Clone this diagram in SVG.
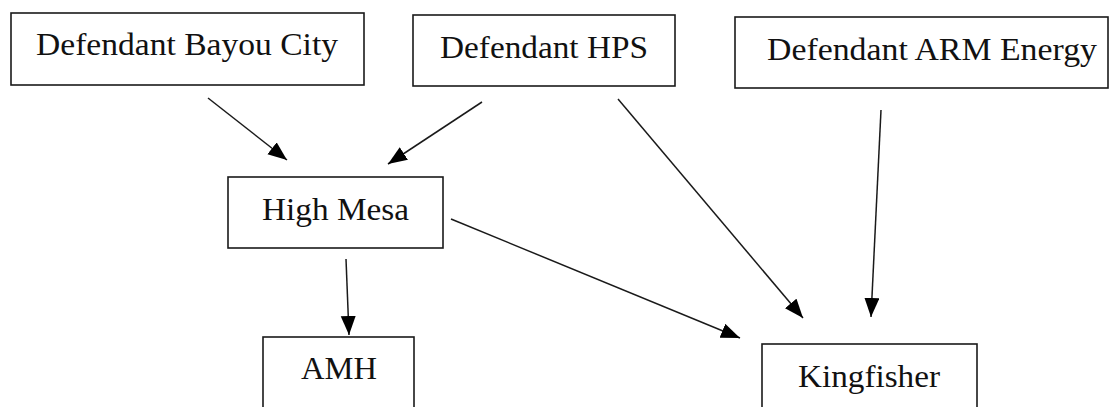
<svg xmlns="http://www.w3.org/2000/svg" width="1116" height="407" viewBox="0 0 1116 407">
<style>
.box{fill:#fff;stroke:#1a1a1a;stroke-width:1.6}
.lbl{font-family:"Liberation Serif","Times New Roman",serif;font-size:32px;fill:#111}
.edge{stroke:#1a1a1a;stroke-width:1.5;fill:none}
</style>
<defs>
<marker id="ah" markerUnits="userSpaceOnUse" markerWidth="22" markerHeight="18" refX="19" refY="7.5" orient="auto">
<path d="M0,0 L19,7.5 L0,15 z" fill="#000"/>
</marker>
</defs>
<rect width="1116" height="407" fill="#fff"/>
<g id="connectors">
<line class="edge" x1="208" y1="98" x2="287" y2="160" marker-end="url(#ah)"/>
<line class="edge" x1="482" y1="102" x2="388" y2="164" marker-end="url(#ah)"/>
<line class="edge" x1="618" y1="99" x2="803" y2="318" marker-end="url(#ah)"/>
<line class="edge" x1="881" y1="110" x2="871" y2="317" marker-end="url(#ah)"/>
<line class="edge" x1="451" y1="219" x2="740" y2="338" marker-end="url(#ah)"/>
<line class="edge" x1="346" y1="259" x2="349" y2="335" marker-end="url(#ah)"/>
</g>
<g id="bayou">
<rect class="box" x="11" y="13" width="353" height="72"/>
<text class="lbl" x="36" y="55" textLength="302" lengthAdjust="spacingAndGlyphs">Defendant Bayou City</text>
</g>
<g id="hps">
<rect class="box" x="413" y="15" width="262" height="71"/>
<text class="lbl" x="440" y="58" textLength="208" lengthAdjust="spacingAndGlyphs">Defendant HPS</text>
</g>
<g id="arm">
<rect class="box" x="735" y="17" width="373" height="71"/>
<text class="lbl" x="767" y="60" textLength="330" lengthAdjust="spacingAndGlyphs">Defendant ARM Energy</text>
</g>
<g id="highmesa">
<rect class="box" x="228" y="177" width="215" height="71"/>
<text class="lbl" x="262" y="220" textLength="147" lengthAdjust="spacingAndGlyphs">High Mesa</text>
</g>
<g id="amh">
<rect class="box" x="263" y="337" width="151" height="100"/>
<text class="lbl" x="301" y="379" textLength="76" lengthAdjust="spacingAndGlyphs">AMH</text>
</g>
<g id="kingfisher">
<rect class="box" x="762" y="344" width="215" height="100"/>
<text class="lbl" x="798" y="387" textLength="142" lengthAdjust="spacingAndGlyphs">Kingfisher</text>
</g>
</svg>
